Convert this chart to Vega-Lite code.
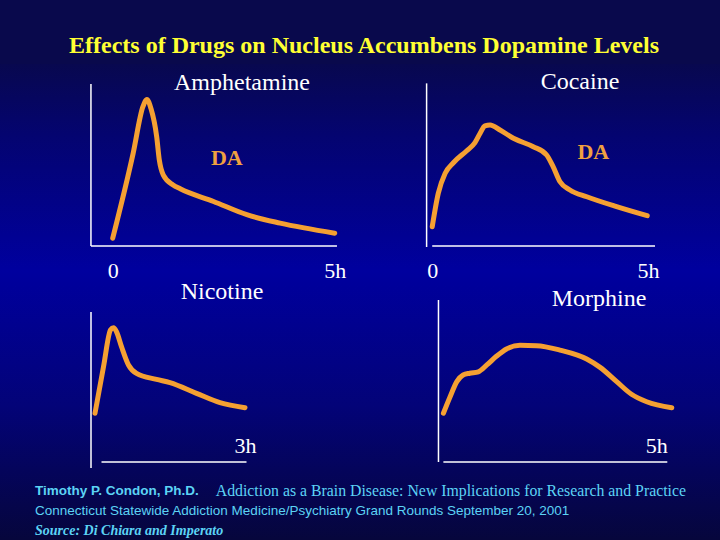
{
  "$schema": "https://vega.github.io/schema/vega-lite/v6.json",
  "background": "#09094c",
  "padding": {"left": 0, "top": 34, "right": 0, "bottom": 0},
  "autosize": {"type": "pad"},
  "title": {
    "text": "Effects of Drugs on Nucleus Accumbens Dopamine Levels",
    "anchor": "middle",
    "frame": "bounds",
    "font": "Liberation Serif",
    "fontSize": 24,
    "fontWeight": "bold",
    "color": "#ffff33",
    "offset": 6,
    "dx": 4
  },
  "datasets": {
    "amph": [
      {"t": 0, "v": 4.8}, {"t": 0.46, "v": 57.2}, {"t": 0.68, "v": 86}, {"t": 0.77, "v": 90.5},
      {"t": 0.86, "v": 85}, {"t": 0.99, "v": 67.5}, {"t": 1.05, "v": 53}, {"t": 1.14, "v": 43.8},
      {"t": 1.36, "v": 37.7}, {"t": 1.52, "v": 35.3}, {"t": 2.27, "v": 27.5}, {"t": 3.02, "v": 19.3},
      {"t": 3.77, "v": 14.1}, {"t": 5.0, "v": 7.9}
    ],
    "coca": [
      {"t": 0, "v": 11.9}, {"t": 0.14, "v": 32.5}, {"t": 0.3, "v": 44.9}, {"t": 0.49, "v": 51.4},
      {"t": 0.8, "v": 58.8}, {"t": 0.99, "v": 63.8}, {"t": 1.11, "v": 69.6}, {"t": 1.22, "v": 74.1},
      {"t": 1.34, "v": 74.7}, {"t": 1.57, "v": 71.6}, {"t": 1.88, "v": 66.5}, {"t": 2.34, "v": 61.3},
      {"t": 2.65, "v": 56.2}, {"t": 2.8, "v": 49}, {"t": 2.96, "v": 39.7}, {"t": 3.19, "v": 34.6},
      {"t": 3.58, "v": 30.4}, {"t": 4.27, "v": 24.3}, {"t": 4.98, "v": 18.7}
    ],
    "nico": [
      {"t": 0, "v": 30.1}, {"t": 0.17, "v": 58.8}, {"t": 0.31, "v": 81.5}, {"t": 0.37, "v": 82.9},
      {"t": 0.43, "v": 80.4}, {"t": 0.53, "v": 71.2}, {"t": 0.67, "v": 59.9}, {"t": 0.83, "v": 54.7},
      {"t": 1.23, "v": 51}, {"t": 1.5, "v": 49}, {"t": 2.03, "v": 42.4}, {"t": 2.5, "v": 36.6},
      {"t": 3.0, "v": 33.5}
    ],
    "morph": [
      {"t": 0, "v": 30.1}, {"t": 0.15, "v": 40.3}, {"t": 0.3, "v": 49.6}, {"t": 0.44, "v": 53.7},
      {"t": 0.59, "v": 54.8}, {"t": 0.78, "v": 55.7}, {"t": 0.97, "v": 59.9}, {"t": 1.19, "v": 65.4},
      {"t": 1.41, "v": 69.8}, {"t": 1.71, "v": 72}, {"t": 2.08, "v": 71.8}, {"t": 2.6, "v": 69.1},
      {"t": 3.2, "v": 63.6}, {"t": 3.5, "v": 58.4}, {"t": 3.87, "v": 49.6}, {"t": 4.2, "v": 41.8},
      {"t": 4.54, "v": 37.2}, {"t": 5.1, "v": 33.5}
    ],
    "footer": [
      {"line": 1, "seg": "author", "text": "Timothy P. Condon, Ph.D."},
      {"line": 1, "seg": "talk", "text": "Addiction as a Brain Disease: New Implications for Research and Practice"},
      {"line": 2, "seg": "venue", "text": "Connecticut Statewide Addiction Medicine/Psychiatry Grand Rounds September 20, 2001"},
      {"line": 3, "seg": "source", "text": "Source: Di Chiara and Imperato"}
    ]
  },
  "spacing": 0,
  "bounds": "full",
  "vconcat": [
    {
      "spacing": -5,
      "bounds": "full",
      "vconcat": [
        {
          "spacing": 0,
          "bounds": "flush",
          "hconcat": [
            {
              "width": 382,
              "height": 221,
              "view": {"stroke": null, "fill": {"gradient": "linear", "x1": 0, "y1": 0, "x2": 0, "y2": 1, "stops": [
                {"offset": 0, "color": "#08084f"}, {"offset": 0.321, "color": "#040470"}, {"offset": 0.932, "color": "#00009e"}, {"offset": 1, "color": "#00009a"}]}},
              "title": {"text": "Amphetamine", "offset": -31, "dx": 51},
              "encoding": {
                "x": {"type": "quantitative", "scale": {"domain": [-2.538, 6.064], "nice": false, "zero": false},
                  "axis": {"values": [0, 5], "labelExpr": "datum.value == 0 ? '0' : datum.value + 'h'", "offset": -39, "labelPadding": 14, "title": null}},
                "y": {"type": "quantitative", "scale": {"domain": [-24.07, 112.35], "nice": false, "zero": false}, "axis": null}
              },
              "layer": [
                {
                  "data": {"name": "amph"},
                  "mark": {"type": "line", "color": "#f5a032", "strokeWidth": 5, "interpolate": "monotone", "strokeCap": "round", "strokeJoin": "round"},
                  "encoding": {"x": {"field": "t"}, "y": {"field": "v"}}
                },
                {
                  "data": {"values": [{}]},
                  "mark": {"type": "rule", "color": "white", "strokeWidth": 1.5},
                  "encoding": {"x": {"datum": -0.49}, "y": {"datum": 0}, "y2": {"datum": 100}}
                },
                {
                  "data": {"values": [{}]},
                  "mark": {"type": "rule", "color": "white", "strokeWidth": 1.5},
                  "encoding": {"x": {"datum": -0.49}, "x2": {"datum": 5.05}, "y": {"datum": 0}}
                },
                {
                  "data": {"values": [{"label": "DA"}]},
                  "mark": {"type": "text", "font": "Liberation Serif", "fontWeight": "bold", "fontSize": 22, "color": "#f0a040", "baseline": "middle", "align": "center"},
                  "encoding": {"x": {"datum": 2.57}, "y": {"datum": 54.1}, "text": {"field": "label"}}
                }
              ]
            },
            {
              "width": 338,
              "height": 221,
              "view": {"stroke": null, "fill": {"gradient": "linear", "x1": 0, "y1": 0, "x2": 0, "y2": 1, "stops": [
                {"offset": 0, "color": "#08084f"}, {"offset": 0.321, "color": "#040470"}, {"offset": 0.932, "color": "#00009e"}, {"offset": 1, "color": "#00009a"}]}},
              "title": {"text": "Cocaine", "offset": -30, "dx": 29},
              "encoding": {
                "x": {"type": "quantitative", "scale": {"domain": [-1.163, 6.665], "nice": false, "zero": false},
                  "axis": {"values": [0, 5], "labelExpr": "datum.value == 0 ? '0' : datum.value + 'h'", "offset": -39, "labelPadding": 14, "title": null}},
                "y": {"type": "quantitative", "scale": {"domain": [-24.07, 112.35], "nice": false, "zero": false}, "axis": null}
              },
              "layer": [
                {
                  "data": {"name": "coca"},
                  "mark": {"type": "line", "color": "#f5a032", "strokeWidth": 5, "interpolate": "monotone", "strokeCap": "round", "strokeJoin": "round"},
                  "encoding": {"x": {"field": "t"}, "y": {"field": "v"}}
                },
                {
                  "data": {"values": [{}]},
                  "mark": {"type": "rule", "color": "white", "strokeWidth": 1.5},
                  "encoding": {"x": {"datum": -0.13}, "y": {"datum": -0.6}, "y2": {"datum": 100.4}}
                },
                {
                  "data": {"values": [{}]},
                  "mark": {"type": "rule", "color": "white", "strokeWidth": 1.5},
                  "encoding": {"x": {"datum": 0}, "x2": {"datum": 5.16}, "y": {"datum": 0}}
                },
                {
                  "data": {"values": [{"label": "DA"}]},
                  "mark": {"type": "text", "font": "Liberation Serif", "fontWeight": "bold", "fontSize": 22, "color": "#f0a040", "baseline": "middle", "align": "center"},
                  "encoding": {"x": {"datum": 3.73}, "y": {"datum": 58.2}, "text": {"field": "label"}}
                }
              ]
            }
          ]
        },
        {
          "spacing": 0,
          "bounds": "flush",
          "hconcat": [
            {
              "width": 400,
              "height": 185,
              "view": {"stroke": null, "fill": {"gradient": "linear", "x1": 0, "y1": 0, "x2": 0, "y2": 1, "stops": [
                {"offset": 0, "color": "#00009a"}, {"offset": 0.649, "color": "#030378"}, {"offset": 1, "color": "#04045b"}]}},
              "title": {"text": "Nicotine", "offset": -19, "dx": 22},
              "encoding": {
                "x": {"type": "quantitative", "scale": {"domain": [-1.9, 6.1], "nice": false, "zero": false},
                  "axis": {"values": [3], "labelExpr": "datum.value + 'h'", "offset": -8, "labelPadding": -27, "title": null}},
                "y": {"type": "quantitative", "scale": {"domain": [-4.94, 109.26], "nice": false, "zero": false}, "axis": null}
              },
              "layer": [
                {
                  "data": {"name": "nico"},
                  "mark": {"type": "line", "color": "#f5a032", "strokeWidth": 5, "interpolate": "monotone", "strokeCap": "round", "strokeJoin": "round"},
                  "encoding": {"x": {"field": "t"}, "y": {"field": "v"}}
                },
                {
                  "data": {"values": [{}]},
                  "mark": {"type": "rule", "color": "white", "strokeWidth": 1.5},
                  "encoding": {"x": {"datum": -0.08}, "y": {"datum": -3.7}, "y2": {"datum": 92.6}}
                },
                {
                  "data": {"values": [{}]},
                  "mark": {"type": "rule", "color": "white", "strokeWidth": 1.5},
                  "encoding": {"x": {"datum": 0.13}, "x2": {"datum": 3.03}, "y": {"datum": 0}}
                }
              ]
            },
            {
              "width": 320,
              "height": 185,
              "view": {"stroke": null, "fill": {"gradient": "linear", "x1": 0, "y1": 0, "x2": 0, "y2": 1, "stops": [
                {"offset": 0, "color": "#00009a"}, {"offset": 0.649, "color": "#030378"}, {"offset": 1, "color": "#04045b"}]}},
              "title": {"text": "Morphine", "offset": -26, "dx": 39},
              "encoding": {
                "x": {"type": "quantitative", "scale": {"domain": [-0.969, 6.177], "nice": false, "zero": false},
                  "axis": {"values": [5], "labelExpr": "datum.value + 'h'", "labelAlign": "right", "offset": -8, "labelPadding": -27, "title": null}},
                "y": {"type": "quantitative", "scale": {"domain": [-4.94, 109.26], "nice": false, "zero": false}, "axis": null}
              },
              "layer": [
                {
                  "data": {"name": "morph"},
                  "mark": {"type": "line", "color": "#f5a032", "strokeWidth": 5, "interpolate": "monotone", "strokeCap": "round", "strokeJoin": "round"},
                  "encoding": {"x": {"field": "t"}, "y": {"field": "v"}}
                },
                {
                  "data": {"values": [{}]},
                  "mark": {"type": "rule", "color": "white", "strokeWidth": 1.5},
                  "encoding": {"x": {"datum": -0.11}, "y": {"datum": 0}, "y2": {"datum": 100}}
                },
                {
                  "data": {"values": [{}]},
                  "mark": {"type": "rule", "color": "white", "strokeWidth": 1.5},
                  "encoding": {"x": {"datum": 0}, "x2": {"datum": 5}, "y": {"datum": 0}}
                }
              ]
            }
          ]
        }
      ]
    },
    {
      "width": 720,
      "height": 70,
      "view": {"stroke": null, "fill": {"gradient": "linear", "x1": 0, "y1": 0, "x2": 0, "y2": 1, "stops": [
        {"offset": 0, "color": "#04045b"}, {"offset": 1, "color": "#06063c"}]}},
      "data": {"name": "footer"},
      "encoding": {
        "x": {"type": "quantitative", "scale": {"domain": [0, 1], "range": [35, 686]}, "axis": null},
        "y": {"field": "line", "type": "ordinal", "scale": {"type": "point", "domain": [1, 2, 3], "range": [21, 61], "padding": 0}, "axis": null},
        "text": {"field": "text"}
      },
      "layer": [
        {
          "transform": [{"filter": "datum.seg == 'author'"}],
          "mark": {"type": "text", "align": "left", "baseline": "middle", "font": "Liberation Sans", "fontWeight": "bold", "fontSize": 13.5, "color": "#5cd3f5"},
          "encoding": {"x": {"datum": 0}}
        },
        {
          "transform": [{"filter": "datum.seg == 'talk'"}],
          "mark": {"type": "text", "align": "right", "baseline": "middle", "font": "Liberation Serif", "fontSize": 15.8, "color": "#5cd3f5"},
          "encoding": {"x": {"datum": 1}}
        },
        {
          "transform": [{"filter": "datum.seg == 'venue'"}],
          "mark": {"type": "text", "align": "left", "baseline": "middle", "font": "Liberation Sans", "fontSize": 13.5, "color": "#5cd3f5"},
          "encoding": {"x": {"datum": 0}}
        },
        {
          "transform": [{"filter": "datum.seg == 'source'"}],
          "mark": {"type": "text", "align": "left", "baseline": "middle", "font": "Liberation Serif", "fontWeight": "bold", "fontStyle": "italic", "fontSize": 14, "color": "#5cd3f5"},
          "encoding": {"x": {"datum": 0}}
        }
      ]
    }
  ],
  "config": {
    "view": {"stroke": null},
    "concat": {"spacing": 0},
    "title": {"font": "Liberation Serif", "fontSize": 24, "fontWeight": "normal", "color": "white", "frame": "group", "anchor": "middle"},
    "axis": {"grid": false, "domain": false, "ticks": false, "labelFont": "Liberation Serif", "labelFontSize": 22, "labelColor": "white", "labelAngle": 0}
  }
}
